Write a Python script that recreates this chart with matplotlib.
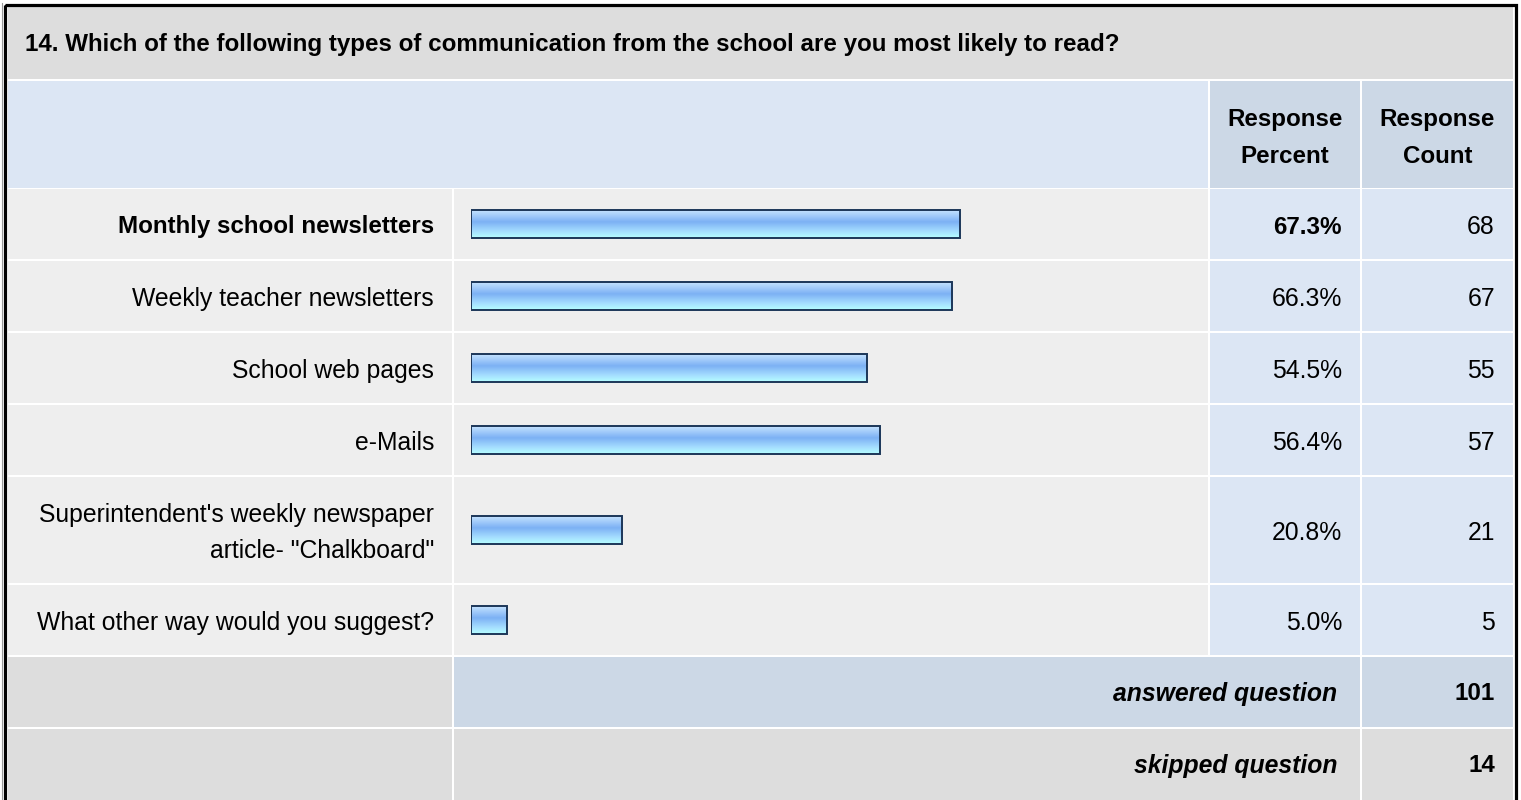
import numpy as np
import matplotlib
matplotlib.use("Agg")
import matplotlib.pyplot as plt
from matplotlib.colors import LinearSegmentedColormap
from matplotlib.patches import Rectangle

plt.rcParams['font.family'] = ['Liberation Sans', 'DejaVu Sans']

title = "14. Which of the following types of communication from the school are you most likely to read?"
answers = ["Monthly school newsletters", "Weekly teacher newsletters", "School web pages", "e-Mails",
           "Superintendent's weekly newspaper\narticle- \"Chalkboard\"", "What other way would you suggest?"]
percents = [67.3, 66.3, 54.5, 56.4, 20.8, 5.0]
counts = [68, 67, 55, 57, 21, 5]
header_cols = ["Response\nPercent", "Response\nCount"]
answered = 101
skipped = 14

# page layout in pixels
W, H = 1521, 800
col_lbl = (8, 452)
col_bar = (454, 1208)
col_pct = (1210, 1360)
col_cnt = (1362, 1513)
row_h = [70, 70, 70, 70, 106, 70]
FS = 17.8
FSB = 17.4

fig = plt.figure(figsize=(W / 100, H / 100), dpi=100)
ax = fig.add_axes([0, 0, 1, 1])
ax.set_xlim(0, W)
ax.set_ylim(H, 0)
ax.axis('off')


def cell(xs, y0, y1, color):
    ax.add_patch(Rectangle((xs[0], y0), xs[1] - xs[0], y1 - y0, facecolor=color, edgecolor='none', zorder=1))


# title row
cell((col_lbl[0], col_cnt[1]), 7, 79, '#dddddd')
ax.text(25, 45, title, fontsize=17.4, fontweight='bold', va='center', ha='left', zorder=5)

# header row
cell((col_lbl[0], col_bar[1]), 81, 188, '#dce6f4')
cell(col_pct, 81, 188, '#ccd8e6')
cell(col_cnt, 81, 188, '#ccd8e6')
for xs, txt in zip([col_pct, col_cnt], header_cols):
    ax.text((xs[0] + xs[1]) / 2, 138, txt, fontsize=FSB, fontweight='bold', ha='center', va='center',
            linespacing=1.78, zorder=5)

# answer rows
centers = []
y = 189
for i in range(len(answers)):
    y0, y1 = y, y + row_h[i]
    cell(col_lbl, y0, y1, '#eeeeee')
    cell(col_bar, y0, y1, '#eeeeee')
    cell(col_pct, y0, y1, '#dce6f4')
    cell(col_cnt, y0, y1, '#dce6f4')
    c = (y0 + y1) / 2
    centers.append(c)
    wt = 'bold' if i == 0 else 'normal'
    fs = FSB if i == 0 else FS
    ax.text(434, c + 3, answers[i], fontsize=fs, fontweight=wt, ha='right', va='center',
            linespacing=1.68, zorder=5)
    ax.text(1342, c + 3, "{:.1f}%".format(percents[i]), fontsize=fs, fontweight=wt, ha='right',
            va='center', zorder=5)
    ax.text(1495, c + 3, str(counts[i]), fontsize=FS, ha='right', va='center', zorder=5)
    y = y1 + 2

# summary rows
cell(col_lbl, 657, 727, '#dddddd')
cell((col_bar[0], col_pct[1]), 657, 727, '#ccd8e6')
cell(col_cnt, 657, 727, '#ccd8e6')
ax.text(1337, 694, "answered question", fontsize=FS, fontweight='bold', style='italic',
        ha='right', va='center', zorder=5)
ax.text(1495, 694, str(answered), fontsize=FSB, fontweight='bold', ha='right', va='center', zorder=5)

cell(col_lbl, 729, 800, '#dddddd')
cell((col_bar[0], col_pct[1]), 729, 800, '#dddddd')
cell(col_cnt, 729, 800, '#dddddd')
ax.text(1337, 766, "skipped question", fontsize=FS, fontweight='bold', style='italic',
        ha='right', va='center', zorder=5)
ax.text(1495, 766, str(skipped), fontsize=FSB, fontweight='bold', ha='right', va='center', zorder=5)

# outer frame
ax.add_patch(Rectangle((4.5, 4.5), 1511, 800, fill=False, edgecolor='black', lw=2.3, zorder=6))
ax.plot([1.5, 1.5], [3, 800], color='#999999', lw=0.8, zorder=6)

# bars, 100% = 726 px
bx = fig.add_axes([471 / W, 0, 726 / W, 1])
bx.axis('off')
cmap = LinearSegmentedColormap.from_list('bar', [(0, '#c4e2ff'), (0.42, '#7cb1f4'), (0.75, '#a4dcff'),
                                                 (1, '#b6ffff')])
grad = np.linspace(0, 1, 64).reshape(-1, 1)
bars = bx.barh(centers, percents, height=28, facecolor='none', edgecolor='#1c3658', lw=1.4, zorder=3)
for b in bars:
    x0, y0, w, h = b.get_x(), b.get_y(), b.get_width(), b.get_height()
    bx.imshow(grad, extent=[x0, x0 + w, y0 + h, y0], aspect='auto', cmap=cmap, zorder=2,
              interpolation='bilinear')
bx.set_xlim(0, 100)
bx.set_ylim(H, 0)

fig.savefig("out.png", dpi=100, facecolor='white')
